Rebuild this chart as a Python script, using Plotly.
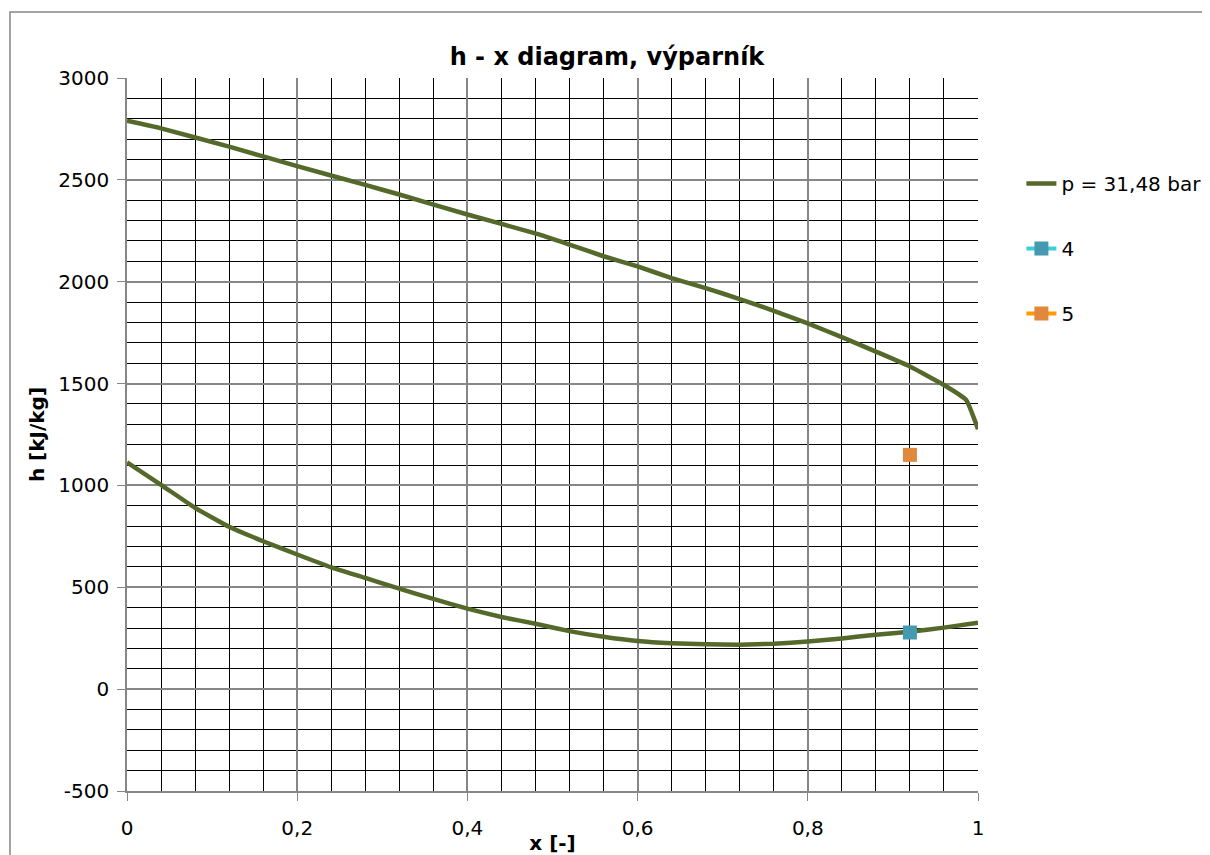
import plotly.graph_objects as go

# Saturation curve p = 31,48 bar (lower branch)
x_lower = [0, 0.04, 0.08, 0.12, 0.16, 0.2, 0.24, 0.28, 0.32, 0.36, 0.4, 0.44, 0.48, 0.52,
           0.56, 0.6, 0.64, 0.68, 0.72, 0.76, 0.8, 0.84, 0.88, 0.92, 0.96, 1.0]
h_lower = [1113, 1003, 890, 797, 726, 661, 598, 546, 493, 443, 395, 354, 321, 285,
           257, 236, 225, 220, 218, 223, 234, 249, 267, 282, 302, 326]

# Upper branch
x_upper = [0, 0.04, 0.12, 0.2, 0.28, 0.32, 0.4, 0.485, 0.52, 0.56, 0.6, 0.64, 0.68, 0.72,
           0.76, 0.8, 0.84, 0.88, 0.92, 0.96, 0.986, 1.0]
h_upper = [2790, 2753, 2663, 2567, 2475, 2428, 2330, 2231, 2182, 2125, 2075, 2018, 1969, 1915,
           1857, 1795, 1728, 1657, 1584, 1493, 1420, 1276]

# Points
x4, h4 = [0.92], [278]
x5, h5 = [0.92], [1150]

y_ticks = [-500, 0, 500, 1000, 1500, 2000, 2500, 3000]
y_ticktext = ["-500", "0", "500", "1000", "1500", "2000", "2500", "3000"]
x_ticks = [0, 0.2, 0.4, 0.6, 0.8, 1]
x_ticktext = ["0", "0,2", "0,4", "0,6", "0,8", "1"]

FONT = "'DejaVu Sans', sans-serif"
GRAY = "#868686"

fig = go.Figure()
fig.add_trace(go.Scatter(
    x=x_lower + [None] + x_upper, y=h_lower + [None] + h_upper,
    mode="lines", name="p = 31,48 bar",
    line=dict(color="#55692B", width=4.5, shape="spline", smoothing=0.4),
    legendgroup="a"))
fig.add_trace(go.Scatter(
    x=x4, y=h4, mode="lines+markers", name="4",
    line=dict(color="#3CCFD3", width=4),
    marker=dict(symbol="square", size=14, color="#4599B0"),
    legendgroup="b"))
fig.add_trace(go.Scatter(
    x=x5, y=h5, mode="lines+markers", name="5",
    line=dict(color="#FF9A00", width=4),
    marker=dict(symbol="square", size=14, color="#E0883E"),
    legendgroup="c"))

fig.update_layout(
    width=1202, height=847,
    margin=dict(l=119, r=232, t=70, b=64, autoexpand=False),
    paper_bgcolor="white", plot_bgcolor="white",
    font=dict(family=FONT, size=20, color="black"),
    title=dict(text="<b>h - x diagram, výparník</b>", x=(607 - 8) / 1202, xanchor="center",
               y=1 - 49 / 847, yanchor="middle", font=dict(size=24, family=FONT)),
    legend=dict(x=1.051, xanchor="left", y=0.8794, yanchor="top",
                tracegroupgap=36, font=dict(size=20, family=FONT),
                bgcolor="rgba(0,0,0,0)"),
    showlegend=True,
    separators=", ",
)

fig.update_xaxes(
    range=[0, 1], tickvals=x_ticks, ticktext=x_ticktext,
    showline=True, linecolor=GRAY, linewidth=1.5, mirror=False,
    ticks="outside", ticklen=8, tickcolor=GRAY,
    showgrid=True, gridcolor=GRAY, gridwidth=1.5,
    minor=dict(dtick=0.04, showgrid=True, gridcolor="black", gridwidth=1, tick0=0),
    zeroline=False, ticklabelstandoff=10, automargin=False,
    title=dict(text="<b>x [-]</b>", standoff=0, font=dict(size=20)),
    tickfont=dict(size=20),
)
fig.update_yaxes(
    range=[-500, 3000], tickvals=y_ticks, ticktext=y_ticktext,
    showline=True, linecolor=GRAY, linewidth=1.5,
    ticks="outside", ticklen=8, tickcolor=GRAY,
    showgrid=True, gridcolor=GRAY, gridwidth=1.5,
    minor=dict(dtick=100, showgrid=True, gridcolor="black", gridwidth=1, tick0=0),
    zeroline=False, ticklabelstandoff=4, automargin=False,
    title=dict(text="<b>h [kJ/kg]</b>", standoff=8, font=dict(size=20)),
    tickfont=dict(size=20),
)

# Outer chart border
fig.add_shape(type="rect", xref="paper", yref="paper",
              x0=(10 - 127) / 851, x1=1.6, y0=-0.3, y1=(791 - 12) / 713,
              line=dict(color=GRAY, width=1.5), fillcolor="rgba(0,0,0,0)", layer="below")

fig.write_html("out.html")
